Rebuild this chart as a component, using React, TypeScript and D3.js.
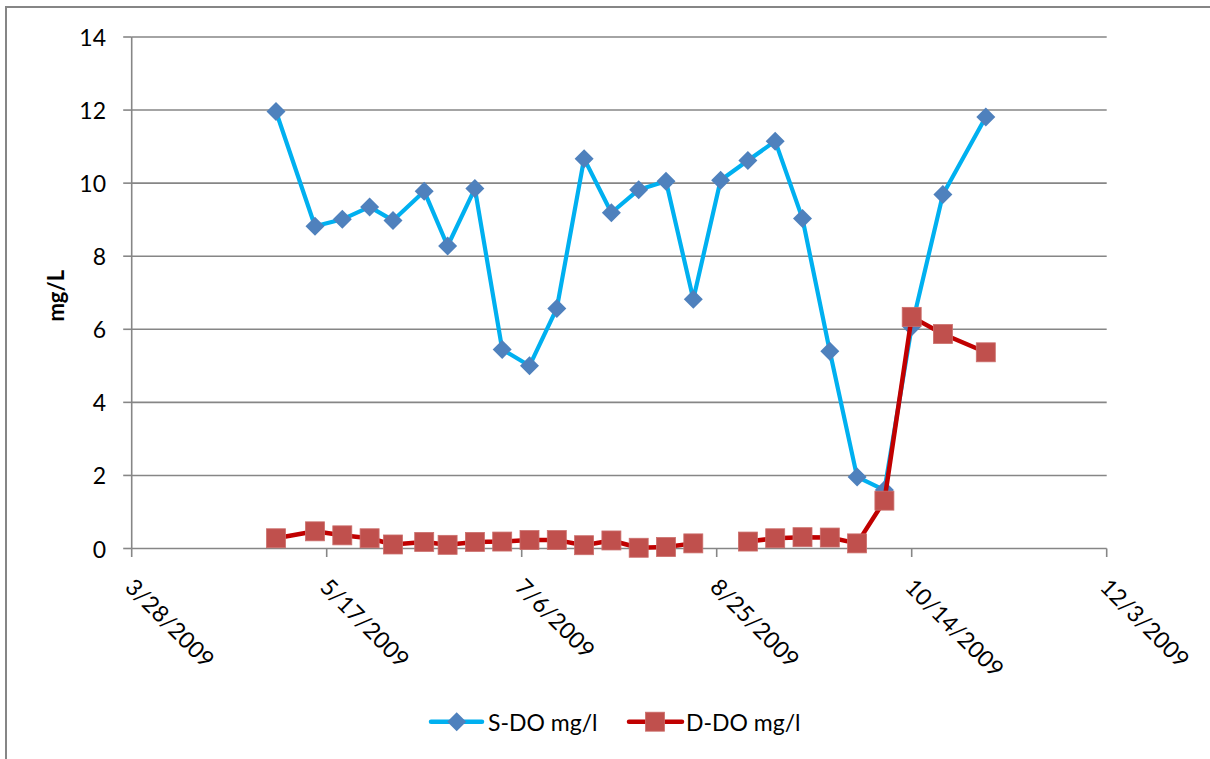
import React from "react";
import * as d3 from "d3";

// Sampling dates (2009) and dissolved-oxygen readings, mg/l
const sampleDates: string[] = [
  "2009-05-04", "2009-05-14", "2009-05-21", "2009-05-28", "2009-06-03",
  "2009-06-11", "2009-06-17", "2009-06-24", "2009-07-01", "2009-07-08",
  "2009-07-15", "2009-07-22", "2009-07-29", "2009-08-05", "2009-08-12",
  "2009-08-19", "2009-08-26", "2009-09-02", "2009-09-09", "2009-09-16",
  "2009-09-23", "2009-09-30", "2009-10-07", "2009-10-14", "2009-10-22",
  "2009-11-02",
];

const surfaceDO: (number | null)[] = [
  11.96, 8.82, 9.01, 9.35, 8.98, 9.78, 8.28, 9.85, 5.45, 5.0,
  6.57, 10.67, 9.19, 9.82, 10.05, 6.82, 10.08, 10.62, 11.15, 9.03,
  5.4, 1.96, 1.6, 6.07, 9.69, 11.81,
];

const deepDO: (number | null)[] = [
  0.28, 0.47, 0.36, 0.28, 0.11, 0.18, 0.1, 0.18, 0.19, 0.23,
  0.23, 0.09, 0.22, 0.02, 0.04, 0.14, null, 0.19, 0.28, 0.31,
  0.3, 0.14, 1.31, 6.34, 5.87, 5.37,
];

const seriesNames: string[] = ["S-DO mg/l", "D-DO mg/l"];
const yTicks: number[] = [0, 2, 4, 6, 8, 10, 12, 14];
const xTickStrings: string[] = [
  "2009-03-28", "2009-05-17", "2009-07-06", "2009-08-25", "2009-10-14", "2009-12-03",
];
const yTitle = "mg/L";

const parseDay = (s: string) => {
  const [y, m, d] = s.split("-").map(Number);
  return new Date(Date.UTC(y, m - 1, d));
};
const fmtDay = (d: Date) => `${d.getUTCMonth() + 1}/${d.getUTCDate()}/${d.getUTCFullYear()}`;

const FONT = "Lato, 'Open Sans', sans-serif";
const GRID = "#868686";

type Pt = { date: Date; v: number | null };

export default function App() {
  const W = 1210;
  const H = 759;
  const left = 131.7;
  const right = 1106.7;
  const top = 37;
  const bottom = 548.5;

  const xTicks = xTickStrings.map(parseDay);
  const x = d3
    .scaleUtc()
    .domain([xTicks[0], xTicks[xTicks.length - 1]])
    .range([left, right]);
  const y = d3.scaleLinear().domain([0, 14]).range([bottom, top]);

  const dates = sampleDates.map(parseDay);
  const sPts: Pt[] = dates.map((date, i) => ({ date, v: surfaceDO[i] }));
  const dPts: Pt[] = dates.map((date, i) => ({ date, v: deepDO[i] }));

  const line = d3
    .line<Pt>()
    .defined((d) => d.v != null)
    .x((d) => x(d.date))
    .y((d) => y(d.v as number));

  const diamond = (cx: number, cy: number, r: number) =>
    `M${cx},${cy - r}L${cx + r},${cy}L${cx},${cy + r}L${cx - r},${cy}Z`;

  const DR = 9.5;
  const SQ = 19;

  const legendY = 721.7;

  return (
    <svg
      width={W}
      height={H}
      style={{ position: "absolute", left: 0, top: 0, background: "#fff" }}
    >
      <rect x={0} y={0} width={W} height={H} fill="#fff" />
      {/* chart frame */}
      <rect x={6} y={7} width={W + 20} height={H + 20} fill="none" stroke={GRID} strokeWidth={2} />

      {/* horizontal gridlines */}
      {yTicks.map((t) => (
        <line key={`g${t}`} x1={left} x2={right} y1={y(t)} y2={y(t)} stroke={GRID} strokeWidth={1.6} />
      ))}

      {/* y axis */}
      <line x1={left} x2={left} y1={top} y2={bottom} stroke={GRID} strokeWidth={1.6} />
      {yTicks.map((t) => (
        <g key={`yt${t}`}>
          <line x1={left - 8.5} x2={left} y1={y(t)} y2={y(t)} stroke={GRID} strokeWidth={1.6} />
          <text
            x={106}
            y={y(t)}
            textAnchor="end"
            dominantBaseline="central"
            fontFamily={FONT}
            fontSize={23}
            fill="#000"
          >
            {t}
          </text>
        </g>
      ))}
      <text
        transform={`translate(55,${(top + bottom) / 2 + 3}) rotate(-90)`}
        textAnchor="middle"
        dominantBaseline="central"
        fontFamily={FONT}
        fontWeight="bold"
        fontSize={22}
        fill="#000"
      >
        {yTitle}
      </text>

      {/* x axis */}
      {xTicks.map((d, i) => (
        <g key={`xt${i}`}>
          <line x1={x(d)} x2={x(d)} y1={bottom} y2={bottom + 8.5} stroke={GRID} strokeWidth={1.6} />
          <text
            transform={`translate(${x(d) + 5},${bottom + 27}) rotate(45)`}
            textAnchor="start"
            dominantBaseline="hanging"
            fontFamily={FONT}
            fontSize={23}
            fill="#000"
          >
            {fmtDay(d)}
          </text>
        </g>
      ))}

      {/* S-DO series */}
      <path d={line(sPts) || ""} fill="none" stroke="#00B0F0" strokeWidth={4.2} strokeLinejoin="round" />
      {sPts
        .filter((p) => p.v != null)
        .map((p, i) => (
          <path key={`sd${i}`} d={diamond(x(p.date), y(p.v as number), DR)} fill="#4F81BD" />
        ))}

      {/* D-DO series */}
      <path d={line(dPts) || ""} fill="none" stroke="#C00000" strokeWidth={4.5} strokeLinejoin="round" />
      {dPts
        .filter((p) => p.v != null)
        .map((p, i) => (
          <rect
            key={`dd${i}`}
            x={x(p.date) - SQ / 2}
            y={y(p.v as number) - SQ / 2}
            width={SQ}
            height={SQ}
            fill="#C0504D"
            stroke="#CB6F6C"
            strokeWidth={0.8}
          />
        ))}

      {/* legend */}
      <g>
        <line x1={431} x2={482} y1={legendY} y2={legendY} stroke="#00B0F0" strokeWidth={4.5} strokeLinecap="round" />
        <path d={diamond(456.7, legendY, DR)} fill="#4F81BD" />
        <text x={488} y={legendY} dominantBaseline="central" fontFamily={FONT} fontSize={23} fill="#000">
          {seriesNames[0]}
        </text>
        <line x1={629} x2={682} y1={legendY} y2={legendY} stroke="#C00000" strokeWidth={4.5} strokeLinecap="round" />
        <rect x={655 - SQ / 2} y={legendY - SQ / 2} width={SQ} height={SQ} fill="#C0504D" stroke="#CB6F6C" strokeWidth={0.8} />
        <text x={686} y={legendY} dominantBaseline="central" fontFamily={FONT} fontSize={23} fill="#000">
          {seriesNames[1]}
        </text>
      </g>
    </svg>
  );
}
